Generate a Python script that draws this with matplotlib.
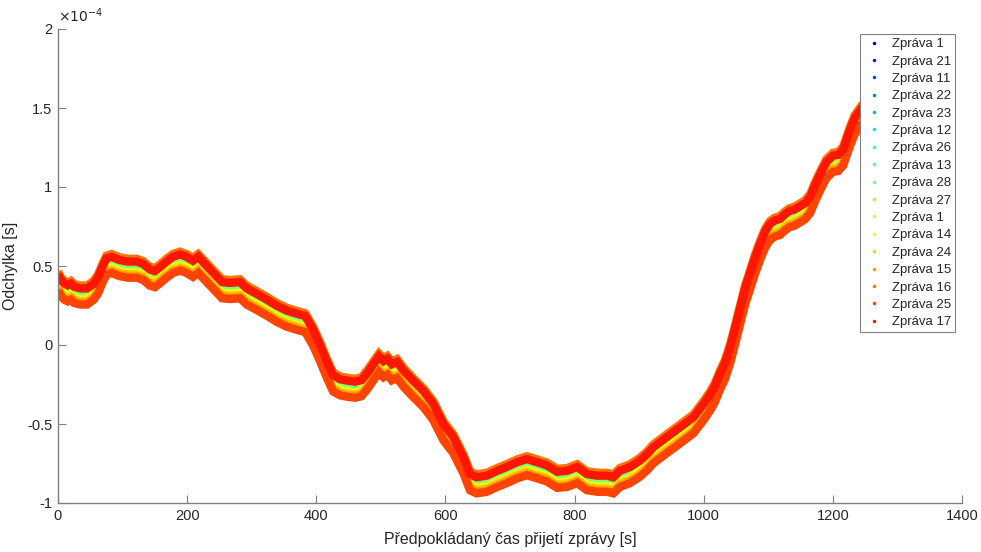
import numpy as np
import matplotlib
matplotlib.use("Agg")
import matplotlib.pyplot as plt
from matplotlib.lines import Line2D

plt.rcParams['font.family'] = ['Liberation Sans', 'DejaVu Sans']

# Expected reception time [s] and the common deviation trend [x1e-4 s]
time_s = [0, 5, 10, 15, 20, 25, 35, 45, 55, 62, 68, 75, 83, 95, 108, 122, 132, 142,
          150, 158, 168, 178, 189, 199, 209, 217, 225, 240, 254, 266, 282, 292, 308,
          323, 339, 354, 370, 383, 395, 406, 416, 426, 437, 450, 460, 470, 480, 490,
          497, 504, 510, 517, 525, 535, 550, 566, 581, 597, 612, 628, 638, 648, 664,
          680, 695, 711, 726, 742, 757, 773, 788, 804, 819, 835, 850, 860, 870, 886,
          901, 912, 922, 943, 963, 984, 1000, 1010, 1017, 1025, 1033, 1041, 1048,
          1056, 1064, 1072, 1079, 1087, 1095, 1103, 1110, 1118, 1126, 1133, 1141,
          1149, 1157, 1165, 1172, 1180, 1190, 1200, 1208, 1216, 1227, 1234, 1241, 1246]
trend = [0.41, 0.37, 0.35, 0.34, 0.35, 0.33, 0.32, 0.32, 0.35, 0.39, 0.45, 0.51, 0.52,
         0.50, 0.49, 0.49, 0.475, 0.44, 0.43, 0.455, 0.49, 0.52, 0.535, 0.52, 0.495,
         0.52, 0.485, 0.42, 0.36, 0.355, 0.36, 0.32, 0.285, 0.25, 0.21, 0.18, 0.16,
         0.145, 0.06, -0.04, -0.14, -0.23, -0.255, -0.265, -0.27, -0.26, -0.21, -0.15,
         -0.11, -0.14, -0.125, -0.16, -0.145, -0.20, -0.265, -0.33, -0.41, -0.54, -0.62,
         -0.75, -0.855, -0.875, -0.865, -0.835, -0.81, -0.78, -0.76, -0.78, -0.80, -0.84,
         -0.835, -0.81, -0.855, -0.865, -0.865, -0.875, -0.835, -0.81, -0.77, -0.73,
         -0.685, -0.62, -0.56, -0.495, -0.41, -0.35, -0.30, -0.22, -0.15, -0.05, 0.06,
         0.19, 0.32, 0.42, 0.51, 0.60, 0.68, 0.73, 0.75, 0.76, 0.79, 0.81, 0.82, 0.84,
         0.86, 0.90, 0.97, 1.04, 1.12, 1.16, 1.165, 1.20, 1.33, 1.40, 1.44, 1.47]

# Messages in plotting order and their constant shift from the trend [x1e-4 s]
messages = ["Zpráva 1", "Zpráva 21", "Zpráva 11", "Zpráva 22", "Zpráva 23", "Zpráva 12",
            "Zpráva 26", "Zpráva 13", "Zpráva 28", "Zpráva 27", "Zpráva 1", "Zpráva 14",
            "Zpráva 24", "Zpráva 15", "Zpráva 16", "Zpráva 25", "Zpráva 17"]
shifts = [0.004, 0.006, 0.002, 0.008, 0.0, 0.005, 0.003, 0.002, 0.0, -0.028, -0.030,
          -0.032, -0.042, -0.052, 0.056, -0.064, 0.038]

y_ticks = [-1, -0.5, 0, 0.5, 1, 1.5, 2]
y_tick_labels = ["-1", "-0.5", "0", "0.5", "1", "1.5", "2"]
x_ticks = [0, 200, 400, 600, 800, 1000, 1200, 1400]

cmap = matplotlib.colormaps['jet']
colors = [cmap(v) for v in np.linspace(0.1, 0.885, len(messages))]

fig = plt.figure(figsize=(9.81, 5.52), dpi=100)
ax = fig.add_axes([58 / 981, 49 / 552, 904 / 981, 474 / 552])

t = np.array(time_s)
base = np.array(trend)
for name, off, col in zip(messages, shifts, colors):
    ax.plot(t, (base + off) * 1e-4, color=col, lw=6.0, solid_joinstyle='miter',
            solid_capstyle='butt')

ax.set_xlim(0, 1400)
ax.set_ylim(-1e-4, 2e-4)
ax.set_xticks(x_ticks)
ax.set_yticks([v * 1e-4 for v in y_ticks])
ax.set_yticklabels(y_tick_labels)

axis_col = '#808080'
text_col = '#262626'
for side in ('top', 'right'):
    ax.spines[side].set_visible(False)
for side in ('left', 'bottom'):
    ax.spines[side].set_color(axis_col)
    ax.spines[side].set_linewidth(1.0)
ax.tick_params(direction='in', length=6, width=0.8, color=axis_col,
               labelcolor=text_col, labelsize=10.5, pad=4)

ax.text(0.0, 1.008, r'$\times10^{-4}$', transform=ax.transAxes, ha='left', va='bottom',
        fontsize=10, color=text_col)

ax.set_xlabel("Předpokládaný čas přijetí zprávy [s]", fontsize=11.5, color=text_col)
ax.set_ylabel("Odchylka [s]", fontsize=11.5, color=text_col)
ax.xaxis.set_label_coords(0.5, -0.062)
ax.yaxis.set_label_coords(-0.044, 0.5)

handles = [Line2D([], [], marker='.', linestyle='none', color=c, markersize=3)
           for c in colors]
leg = ax.legend(handles, messages, loc='upper right',
                bbox_to_anchor=(897 / 904, 1 - 5 / 474), fontsize=9.5,
                frameon=True, fancybox=False, framealpha=1, edgecolor=axis_col,
                borderpad=0.3, labelspacing=0.39, handlelength=1.5,
                handletextpad=0.6, borderaxespad=0)
leg.get_frame().set_linewidth(0.8)
for txt in leg.get_texts():
    txt.set_color(text_col)

fig.savefig("out.png", dpi=100)
